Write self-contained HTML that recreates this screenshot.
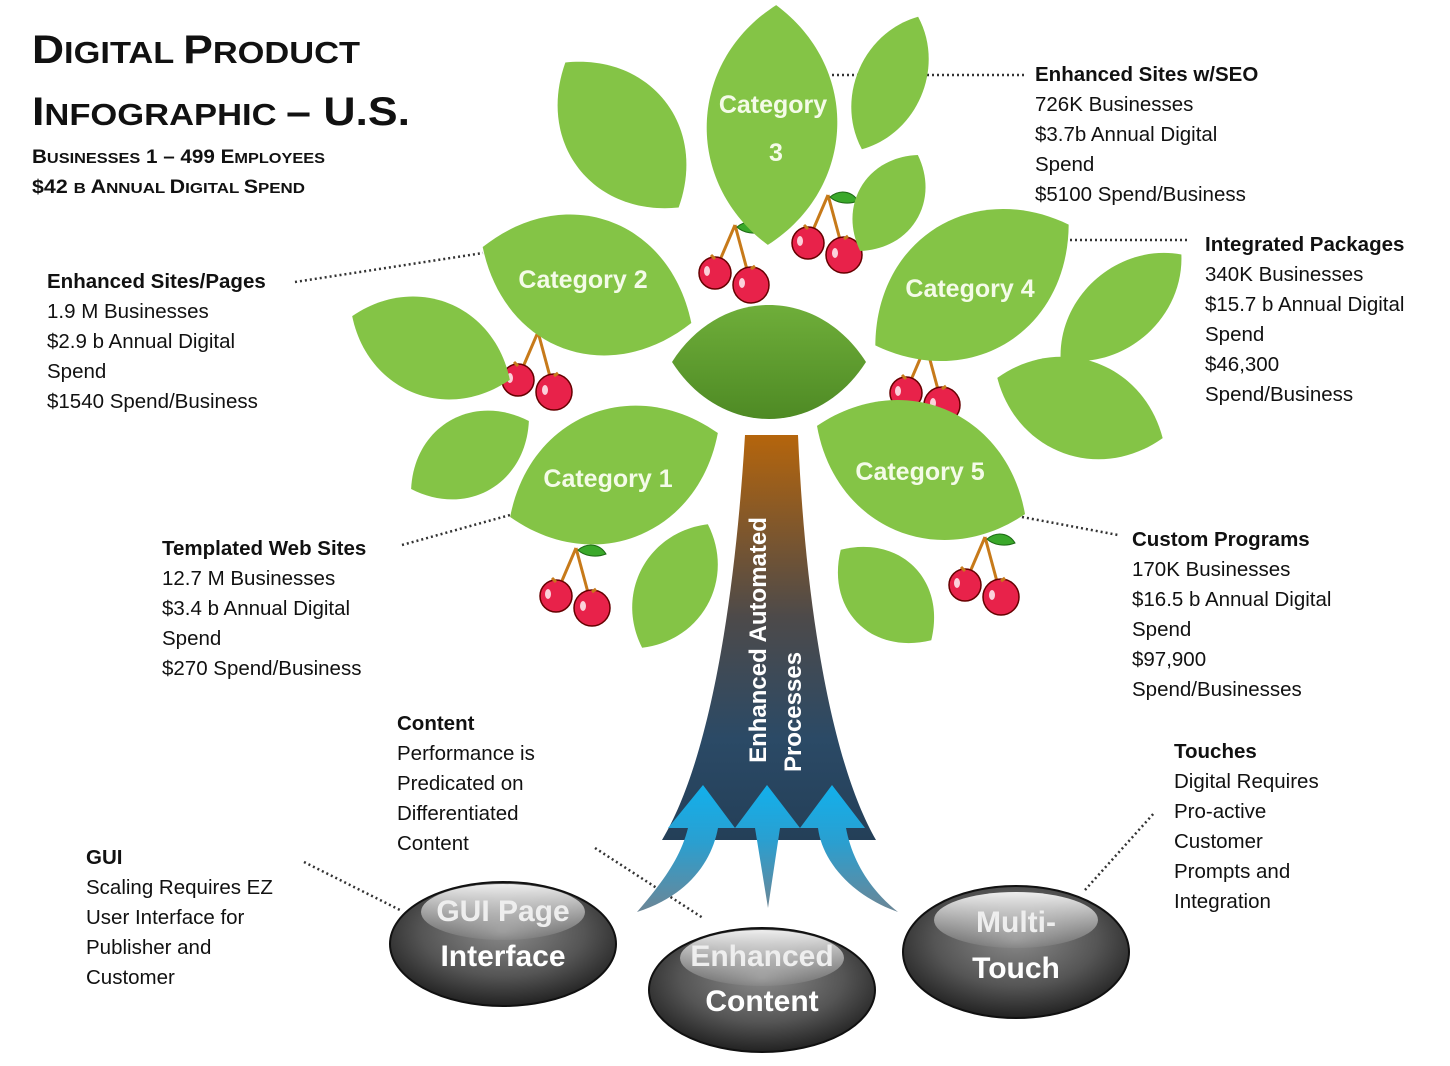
<!DOCTYPE html>
<html><head><meta charset="utf-8"><style>
html,body{margin:0;padding:0;background:#fff}
svg{display:block}
text{font-family:"Liberation Sans",sans-serif}
</style></head><body>
<svg width="1450" height="1066" viewBox="0 0 1450 1066" xmlns="http://www.w3.org/2000/svg">
<defs>
<linearGradient id="trunk" x1="0" y1="0" x2="0" y2="1">
<stop offset="0" stop-color="#b5650c"/><stop offset="0.45" stop-color="#4d4a4a"/><stop offset="0.75" stop-color="#2b4a66"/><stop offset="1" stop-color="#243f58"/>
</linearGradient>
<linearGradient id="arr" x1="0" y1="0" x2="0" y2="1">
<stop offset="0" stop-color="#12b0ec"/><stop offset="0.45" stop-color="#2a9fd0"/><stop offset="1" stop-color="#6c8696"/>
</linearGradient>
<radialGradient id="btn" cx="0.5" cy="0.4" r="0.6">
<stop offset="0" stop-color="#8a8a8a"/><stop offset="0.6" stop-color="#555"/><stop offset="1" stop-color="#222"/>
</radialGradient>
<linearGradient id="hl" x1="0" y1="0" x2="0" y2="1">
<stop offset="0" stop-color="#fff" stop-opacity="0.9"/><stop offset="1" stop-color="#fff" stop-opacity="0.05"/>
</linearGradient>
<linearGradient id="dk" x1="0" y1="0" x2="0" y2="1">
<stop offset="0" stop-color="#6fae3a"/><stop offset="1" stop-color="#4e8a24"/>
</linearGradient>
<path id="lf" d="M-1 0 C-0.5 -1 0.5 -1 1 0 C0.5 1 -0.5 1 -1 0Z"/>
<g id="ch">
<path d="M0 0 L-18 42 M0 0 L14 52" stroke="#c77a1a" stroke-width="3" fill="none"/>
<path d="M2 2 C12 -6 24 -4 30 6 C20 10 8 8 2 2Z" fill="#3aa82a" stroke="#1d6a14" stroke-width="1"/>
<circle cx="-20" cy="48" r="16" fill="#e8224a" stroke="#600" stroke-width="1.5"/>
<circle cx="16" cy="60" r="18" fill="#e8224a" stroke="#600" stroke-width="1.5"/>
<ellipse cx="-28" cy="46" rx="3" ry="5" fill="#fff" opacity="0.8"/>
<ellipse cx="7" cy="58" rx="3" ry="5" fill="#fff" opacity="0.8"/>
<path d="M-20 34 l-4 -4 M16 44 l4 -3" stroke="#c77a1a" stroke-width="3"/>
</g>
</defs>

<g stroke="#333" stroke-width="2.5" stroke-dasharray="2 3" fill="none">
<line x1="832" y1="75" x2="1025" y2="75"/>
<line x1="1070" y1="240" x2="1190" y2="240"/>
<line x1="295" y1="282" x2="483" y2="253"/>
<line x1="402" y1="545" x2="510" y2="515"/>
<line x1="1022" y1="517" x2="1118" y2="535"/>
<line x1="304" y1="862" x2="400" y2="910"/>
<line x1="595" y1="848" x2="703" y2="918"/>
<line x1="1085" y1="890" x2="1155" y2="812"/>
</g>

<use href="#ch" transform="translate(735,225)"/>
<use href="#ch" transform="translate(828,195)"/>
<use href="#ch" transform="translate(538,332)"/>
<use href="#ch" transform="translate(926,345)"/>
<use href="#ch" transform="translate(576,548)"/>
<use href="#ch" transform="translate(985,537)"/>

<g fill="#84c446">
<use href="#lf" transform="translate(622,135) rotate(52) scale(92,73)"/>
<use href="#lf" transform="translate(890,83) rotate(113) scale(72,45)"/>
<use href="#lf" transform="translate(889,203) rotate(121) scale(56,43)"/>
<use href="#lf" transform="translate(772,125) rotate(92) scale(120,87)"/>
<use href="#lf" transform="translate(431,348) rotate(22) scale(85,64)"/>
<use href="#lf" transform="translate(470,455) rotate(-30) scale(68,53)"/>
<use href="#lf" transform="translate(675,586) rotate(-62) scale(70,50)"/>
<use href="#lf" transform="translate(886,595) rotate(45) scale(64,53)"/>
<use href="#lf" transform="translate(1121,307) rotate(139) scale(80,50)"/>
<use href="#lf" transform="translate(1080,408) rotate(20) scale(88,64)"/>
<use href="#lf" transform="translate(587,285) rotate(20) scale(111,90)"/>
<use href="#lf" transform="translate(972,285) rotate(148) scale(114,90)"/>
<use href="#lf" transform="translate(614,475) rotate(-22) scale(112,87)"/>
<use href="#lf" transform="translate(921,470) rotate(23) scale(113,87)"/>
</g>
<use href="#lf" fill="url(#dk)" transform="translate(769,362) scale(97,76)"/>

<path d="M745 435 L798 435 C805 600 830 760 876 840 L662 840 C710 760 735 600 745 435Z" fill="url(#trunk)"/>
<text transform="translate(766,640) rotate(-90)" text-anchor="middle" font-size="24" font-weight="bold" fill="#fff">Enhanced Automated</text>
<text transform="translate(801,712) rotate(-90)" text-anchor="middle" font-size="24" font-weight="bold" fill="#fff">Processes</text>

<g fill="url(#arr)">
<path d="M703 785 L735 828 L718 828 C712 860 690 895 637 912 C660 885 680 860 688 828 L668 828Z"/>
<path d="M767 785 L800 828 L780 828 L768 908 L755 828 L735 828Z"/>
<path d="M832 785 L865 828 L846 828 C852 860 870 890 898 912 C850 895 822 860 818 828 L800 828Z"/>
</g>

<g>
<ellipse cx="503" cy="944" rx="113" ry="62" fill="url(#btn)" stroke="#111" stroke-width="2"/>
<ellipse cx="503" cy="912" rx="82" ry="28" fill="url(#hl)"/>
<text x="503" y="921" text-anchor="middle" font-size="30" font-weight="bold" fill="#eee">GUI Page</text>
<text x="503" y="966" text-anchor="middle" font-size="30" font-weight="bold" fill="#fff">Interface</text>

<ellipse cx="762" cy="990" rx="113" ry="62" fill="url(#btn)" stroke="#111" stroke-width="2"/>
<ellipse cx="762" cy="958" rx="82" ry="28" fill="url(#hl)"/>
<text x="762" y="966" text-anchor="middle" font-size="30" font-weight="bold" fill="#eee">Enhanced</text>
<text x="762" y="1011" text-anchor="middle" font-size="30" font-weight="bold" fill="#fff">Content</text>

<ellipse cx="1016" cy="952" rx="113" ry="66" fill="url(#btn)" stroke="#111" stroke-width="2"/>
<ellipse cx="1016" cy="920" rx="82" ry="28" fill="url(#hl)"/>
<text x="1016" y="932" text-anchor="middle" font-size="30" font-weight="bold" fill="#eee">Multi-</text>
<text x="1016" y="978" text-anchor="middle" font-size="30" font-weight="bold" fill="#fff">Touch</text>
</g>

<g fill="#f4fbe8" font-size="25" font-weight="bold" text-anchor="middle">
<text x="773" y="113">Category</text>
<text x="776" y="161">3</text>
<text x="583" y="288">Category 2</text>
<text x="970" y="297">Category 4</text>
<text x="608" y="487">Category 1</text>
<text x="920" y="480">Category 5</text>
</g>

<g font-weight="bold" fill="#111">
<text x="32" y="63" textLength="328" lengthAdjust="spacingAndGlyphs"><tspan font-size="40">D</tspan><tspan font-size="31">IGITAL </tspan><tspan font-size="40">P</tspan><tspan font-size="31">RODUCT</tspan></text>
<text x="32" y="125" textLength="378" lengthAdjust="spacingAndGlyphs"><tspan font-size="40">I</tspan><tspan font-size="31">NFOGRAPHIC </tspan><tspan font-size="40">– U.S.</tspan></text>
<text x="32" y="163" textLength="293" lengthAdjust="spacingAndGlyphs"><tspan font-size="19">B</tspan><tspan font-size="15">USINESSES</tspan><tspan font-size="19">  1 – 499 E</tspan><tspan font-size="15">MPLOYEES</tspan></text>
<text x="32" y="193" textLength="273" lengthAdjust="spacingAndGlyphs"><tspan font-size="19">$42 </tspan><tspan font-size="15">B </tspan><tspan font-size="19">A</tspan><tspan font-size="15">NNUAL </tspan><tspan font-size="19">D</tspan><tspan font-size="15">IGITAL </tspan><tspan font-size="19">S</tspan><tspan font-size="15">PEND</tspan></text>
</g>

<g font-size="20.5" fill="#111">
<text x="1035" y="81"><tspan font-weight="bold">Enhanced Sites w/SEO</tspan><tspan x="1035" dy="30">726K Businesses</tspan><tspan x="1035" dy="30">$3.7b Annual Digital</tspan><tspan x="1035" dy="30">Spend</tspan><tspan x="1035" dy="30">$5100 Spend/Business</tspan></text>
<text x="1205" y="251"><tspan font-weight="bold">Integrated Packages</tspan><tspan x="1205" dy="30">340K Businesses</tspan><tspan x="1205" dy="30">$15.7 b Annual Digital</tspan><tspan x="1205" dy="30">Spend</tspan><tspan x="1205" dy="30">$46,300</tspan><tspan x="1205" dy="30">Spend/Business</tspan></text>
<text x="47" y="288"><tspan font-weight="bold">Enhanced Sites/Pages</tspan><tspan x="47" dy="30">1.9 M Businesses</tspan><tspan x="47" dy="30">$2.9 b Annual Digital</tspan><tspan x="47" dy="30">Spend</tspan><tspan x="47" dy="30">$1540 Spend/Business</tspan></text>
<text x="162" y="555"><tspan font-weight="bold">Templated Web Sites</tspan><tspan x="162" dy="30">12.7 M Businesses</tspan><tspan x="162" dy="30">$3.4 b Annual Digital</tspan><tspan x="162" dy="30">Spend</tspan><tspan x="162" dy="30">$270 Spend/Business</tspan></text>
<text x="1132" y="546"><tspan font-weight="bold">Custom Programs</tspan><tspan x="1132" dy="30">170K Businesses</tspan><tspan x="1132" dy="30">$16.5 b Annual Digital</tspan><tspan x="1132" dy="30">Spend</tspan><tspan x="1132" dy="30">$97,900</tspan><tspan x="1132" dy="30">Spend/Businesses</tspan></text>
<text x="397" y="730"><tspan font-weight="bold">Content</tspan><tspan x="397" dy="30">Performance is</tspan><tspan x="397" dy="30">Predicated on</tspan><tspan x="397" dy="30">Differentiated</tspan><tspan x="397" dy="30">Content</tspan></text>
<text x="86" y="864"><tspan font-weight="bold">GUI</tspan><tspan x="86" dy="30">Scaling Requires EZ</tspan><tspan x="86" dy="30">User Interface for</tspan><tspan x="86" dy="30">Publisher and</tspan><tspan x="86" dy="30">Customer</tspan></text>
<text x="1174" y="758"><tspan font-weight="bold">Touches</tspan><tspan x="1174" dy="30">Digital Requires</tspan><tspan x="1174" dy="30">Pro-active</tspan><tspan x="1174" dy="30">Customer</tspan><tspan x="1174" dy="30">Prompts and</tspan><tspan x="1174" dy="30">Integration</tspan></text>
</g>
</svg>
</body></html>
